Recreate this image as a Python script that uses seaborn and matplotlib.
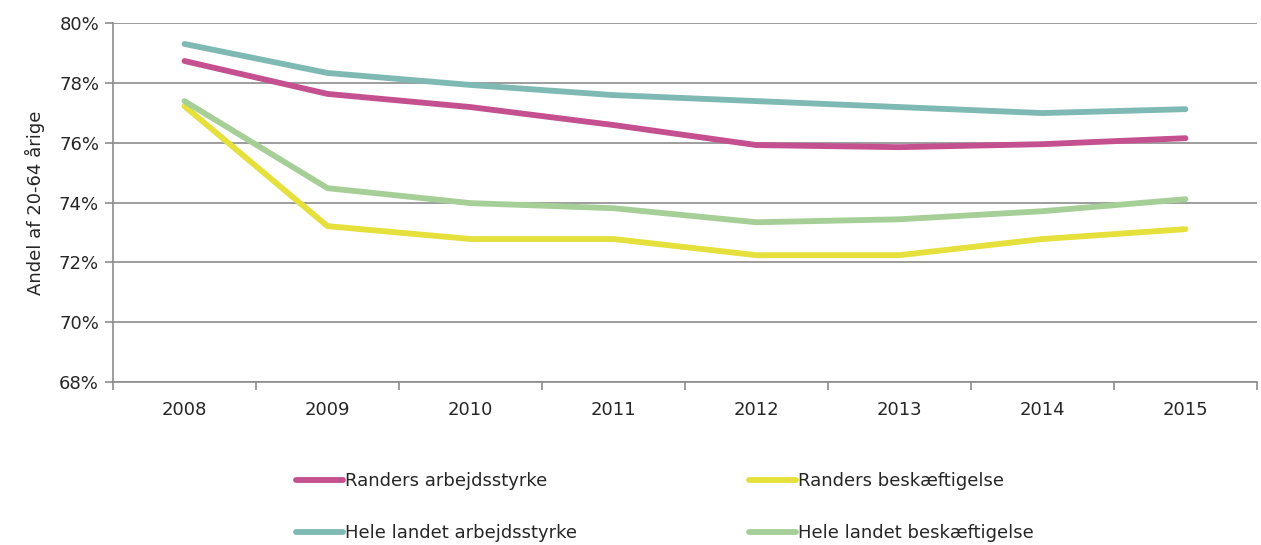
import pandas as pd
import numpy as np
import matplotlib.pyplot as plt
import seaborn as sns
from matplotlib.ticker import FuncFormatter, FixedLocator

# Data
years = ["2008", "2009", "2010", "2011", "2012", "2013", "2014", "2015"]
randers_arbejdsstyrke = [78.73, 77.63, 77.19, 76.59, 75.92, 75.85, 75.95, 76.15]
randers_beskaeftigelse = [77.22, 73.21, 72.78, 72.78, 72.24, 72.24, 72.78, 73.11]
hele_arbejdsstyrke = [79.30, 78.33, 77.93, 77.59, 77.39, 77.19, 76.99, 77.12]
hele_beskaeftigelse = [77.39, 74.48, 73.98, 73.81, 73.34, 73.44, 73.71, 74.11]

series_names = ["Randers arbejdsstyrke", "Randers beskæftigelse",
                "Hele landet arbejdsstyrke", "Hele landet beskæftigelse"]
series_values = [randers_arbejdsstyrke, randers_beskaeftigelse,
                 hele_arbejdsstyrke, hele_beskaeftigelse]
colors = ["#C4508F", "#E6E03C", "#7FB9B4", "#A6CF98"]

rows = []
for name, vals in zip(series_names, series_values):
    for i, (yr, v) in enumerate(zip(years, vals)):
        rows.append({"pos": i, "year": yr, "serie": name, "value": v})
df = pd.DataFrame(rows)

sns.set_style("white")
plt.rcParams['font.family'] = ['DejaVu Sans']

fig = plt.figure(figsize=(12.61, 5.45), dpi=100)
ax = fig.add_axes([0.0896, 0.299, 0.9072, 0.6588])

sns.lineplot(data=df, x="pos", y="value", hue="serie", hue_order=series_names,
             palette=colors, linewidth=4.2, ax=ax, legend=False,
             solid_capstyle="round")

ax.set_xlim(-0.5, len(years) - 0.5)
ax.set_ylim(68, 80)
ax.set_yticks(np.arange(68, 81, 2))
ax.yaxis.set_major_formatter(FuncFormatter(lambda v, p: f"{v:.0f}%"))
ax.set_xticks(range(len(years)))
ax.set_xticklabels(years)
ax.xaxis.set_minor_locator(FixedLocator(np.arange(-0.5, len(years), 1)))

ax.grid(axis="y", color="#8C8C8C", linewidth=1.2)
ax.set_axisbelow(True)
for s in ["top", "right"]:
    ax.spines[s].set_visible(False)
for s in ["left", "bottom"]:
    ax.spines[s].set_color("#8C8C8C")
    ax.spines[s].set_linewidth(1.2)

ax.tick_params(axis="x", which="major", bottom=False, length=0, pad=14, labelsize=13)
ax.tick_params(axis="x", which="minor", bottom=True, length=6, color="#8C8C8C", width=1.2)
ax.tick_params(axis="y", left=True, length=6, color="#8C8C8C", width=1.2, pad=4, labelsize=13)
ax.set_xlabel("")
ax.set_ylabel("Andel af 20-64 årige", fontsize=13, labelpad=10)

handles = [plt.Line2D([], [], color=c, linewidth=4.2, solid_capstyle="round") for c in colors]
order = [0, 2, 1, 3]
fig.legend([handles[i] for i in order], [series_names[i] for i in order],
           ncol=2, loc="lower left", bbox_to_anchor=(0.222, -0.024), frameon=False,
           fontsize=13, handlelength=2.6, handletextpad=0.1,
           columnspacing=9.55, labelspacing=1.85)

fig.savefig("out.png", dpi=100)
